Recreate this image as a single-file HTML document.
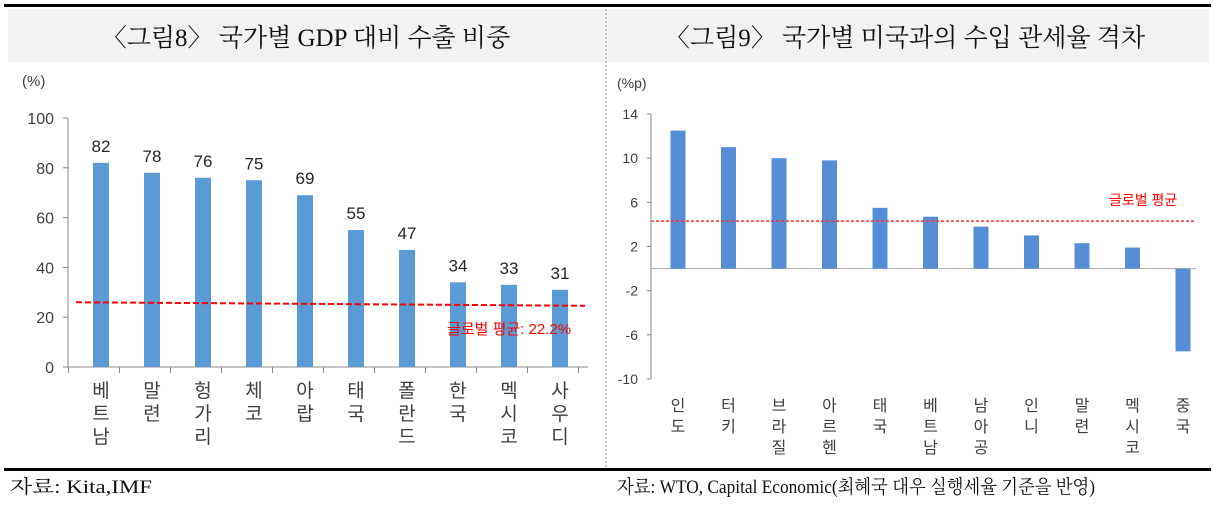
<!DOCTYPE html>
<html><head><meta charset="utf-8">
<style>
html,body{margin:0;padding:0;background:#fff;}
svg{display:block;font-family:"Liberation Sans","Noto Sans CJK KR",sans-serif;}
.ser{font-family:"Liberation Serif","Noto Serif CJK SC","Noto Sans CJK KR",serif;}
</style></head>
<body>
<svg id="c" width="1217" height="507" viewBox="0 0 1217 507">
  <rect x="4" y="4" width="1207" height="3" fill="#000"/>
  <rect x="8" y="9" width="1201" height="53" fill="#f2f2f2"/>
  <line x1="606" y1="9" x2="606" y2="470" stroke="#999" stroke-dasharray="2,2"/>
  <text class="ser" x="306" y="46" font-size="25" text-anchor="middle" fill="#111">〈그림8〉 국가별 GDP 대비 수출 비중</text>
  <text class="ser" x="905" y="46" font-size="25" text-anchor="middle" fill="#111">〈그림9〉 국가별 미국과의 수입 관세율 격차</text>
  <rect x="4" y="468" width="1207" height="3" fill="#000"/>
  <text class="ser" x="10" y="493" font-size="19" fill="#111" textLength="142" lengthAdjust="spacingAndGlyphs">자료: Kita,IMF</text>
  <text class="ser" x="617" y="493" font-size="19" fill="#111" textLength="478" lengthAdjust="spacingAndGlyphs">자료: WTO, Capital Economic(최혜국 대우 실행세율 기준을 반영)</text>
  <g id="left"></g>
  <g id="right"></g>
</svg>
<script>
const leftCats = ["베트남","말련","헝가리","체코","아랍","태국","폴란드","한국","멕시코","사우디"];
const leftVals = [82,78,76,75,69,55,47,34,33,31];
const leftTicks = [0,20,40,60,80,100];
const leftAvg = 22.2;
const rightCats = ["인도","터키","브라질","아르헨","태국","베트남","남아공","인니","말련","멕시코","중국"];
const rightVals = [12.5,11,10,9.8,5.5,4.7,3.8,3.0,2.3,1.9,-7.5];
const rightTicks = [14,10,6,2,-2,-6,-10];
const rightAvg = 4.3;

const NS="http://www.w3.org/2000/svg";
function mk(parent,tag,attrs,text){const e=document.createElementNS(NS,tag);for(const k in attrs)e.setAttribute(k,attrs[k]);if(text!==undefined)e.textContent=text;parent.appendChild(e);return e;}

// left chart
(function(){
  const g=document.getElementById('left');
  const x0=68,x1=588,yTop=118,yBot=367,vmax=100;
  const y=v=>yBot-(v/vmax)*(yBot-yTop);
  const step=51;
  const cx=i=>101+step*i;
  let t=mk(g,'text',{x:22,y:86,'font-size':15,fill:'#404040'},'(%)');
  
  
  let a=mk(g,'line',{x1:x0,y1:yTop,x2:x0,y2:yBot,stroke:'#888'});
  
  
  leftTicks.forEach(v=>{
    mk(g,'line',{x1:x0-5,y1:y(v),x2:x0,y2:y(v),stroke:'#888'});
    const l=mk(g,'text',{x:x0-14,y:y(v)+6,'font-size':16,fill:'#404040','text-anchor':'end'},String(v));
    
    
  });
  let xa=mk(g,'line',{x1:x0,y1:yBot,x2:x1,y2:yBot,stroke:'#888'});
  
  
  for(let i=0;i<=leftCats.length;i++) mk(g,'line',{x1:cx(i)-step/2-7,y1:yBot,x2:cx(i)-step/2-7,y2:yBot+6,stroke:'#888'});
  leftCats.forEach((c,i)=>{
    const b=mk(g,'rect',{x:cx(i)-8,y:y(leftVals[i]),width:16,height:yBot-y(leftVals[i]),fill:'#5b9bd5'});
    
    
    const v=mk(g,'text',{x:cx(i),y:y(leftVals[i])-11,'font-size':17,fill:'#262626','text-anchor':'middle'},String(leftVals[i]));
    
    
    const tx=mk(g,'text',{x:cx(i),'font-size':19,fill:'#404040','text-anchor':'middle'});
    
    
    [...c].forEach((ch,k)=>mk(tx,'tspan',{x:cx(i),y:397+k*23},ch));
  });
  let al=mk(g,'line',{x1:76,y1:y(26),x2:585,y2:y(24.6),stroke:'#ff0000','stroke-width':2,'stroke-dasharray':'6,3'});
  
  
  let at=mk(g,'text',{x:447,y:334,'font-size':15,fill:'#ff0000'},'글로벌 평균: '+leftAvg+'%');
  
  
})();

// right chart
(function(){
  const g=document.getElementById('right');
  const x0=651,x1=1196,yTop=114,yBot=379,vmax=14,vmin=-10;
  const y=v=>yTop+(vmax-v)/(vmax-vmin)*(yBot-yTop);
  const step=50.5;
  const cx=i=>678+step*i;
  let t=mk(g,'text',{x:617,y:88,'font-size':14,fill:'#404040'},'(%p)');
  
  
  let a=mk(g,'line',{x1:x0,y1:yTop,x2:x0,y2:yBot,stroke:'#888'});
  
  
  rightTicks.forEach(v=>{
    mk(g,'line',{x1:x0-4,y1:y(v),x2:x0,y2:y(v),stroke:'#888'});
    const l=mk(g,'text',{x:x0-13,y:y(v)+5,'font-size':14,fill:'#404040','text-anchor':'end'},String(v));
    
    
  });
  let z=mk(g,'line',{x1:x0,y1:y(0),x2:x1,y2:y(0),stroke:'#aaa'});
  
  
  rightCats.forEach((c,i)=>{
    const v=rightVals[i];
    const b=mk(g,'rect',{x:cx(i)-7.5,y:Math.min(y(v),y(0)),width:15,height:Math.abs(y(v)-y(0)),fill:'#558ed5'});
    
    
    const tx=mk(g,'text',{x:cx(i),'font-size':16,fill:'#404040','text-anchor':'middle'});
    
    
    [...c].forEach((ch,k)=>mk(tx,'tspan',{x:cx(i),y:411+k*21},ch));
  });
  let al=mk(g,'line',{x1:x0,y1:y(rightAvg),x2:x1,y2:y(rightAvg),stroke:'#ff3030','stroke-width':1.5,'stroke-dasharray':'3,2'});
  
  
  let at=mk(g,'text',{x:1109,y:205,'font-size':14,fill:'#ff0000'},'글로벌 평균');
  
  
})();
</script>
</body></html>
